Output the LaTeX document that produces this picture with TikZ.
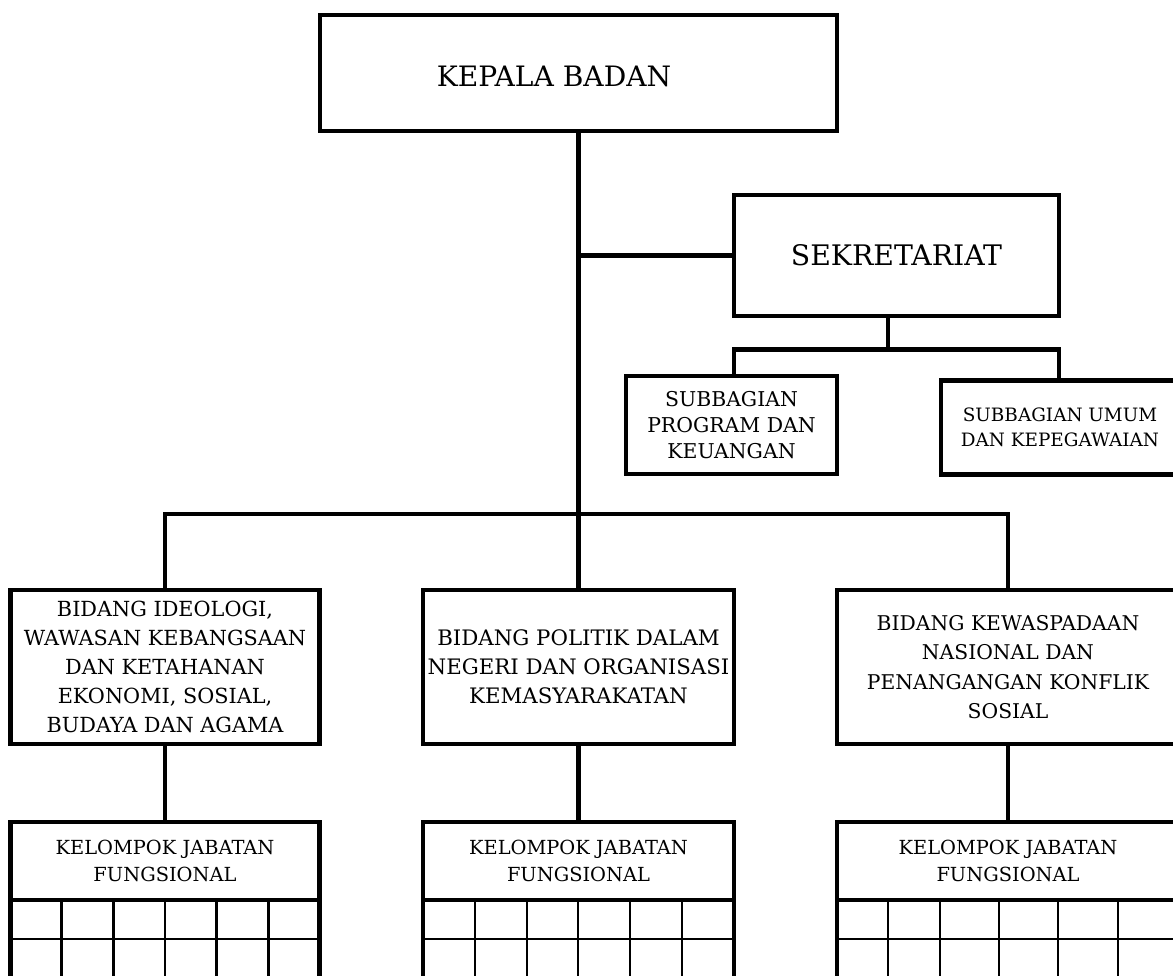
\documentclass[tikz,border=0pt]{standalone}
\usepackage{fontspec}
\setmainfont{DejaVu Serif}
\begin{document}
\begin{tikzpicture}[x=1pt,y=-1pt,
  box/.style={draw, line width=4.6pt, rectangle, inner sep=0pt, outer sep=0pt, align=center},
  conn/.style={line width=4.6pt},
  gridline/.style={line width=2.8pt},
  ]
\useasboundingbox (0,0) rectangle (1173,975);
\clip (0,0) rectangle (1173,975);
\fill[white] (0,0) rectangle (1173,975);

% top
\node[box, minimum width=517pt, minimum height=116pt] (k) at (578.5,73) {};
\node[font=\fontsize{28.1}{34}\selectfont] (kt) at (554,76.5) {KEPALA BADAN};

% sekretariat
\node[box, minimum width=325pt, minimum height=121pt, font=\fontsize{28.3}{34}\selectfont] (s) at (896.5,255.5) {SEKRETARIAT};
\node[box, line width=4pt, minimum width=211pt, minimum height=98pt, font=\fontsize{20.4}{26}\selectfont] (sp) at (731.5,425) {SUBBAGIAN\\PROGRAM DAN\\KEUANGAN};
\node[box, minimum width=238pt, minimum height=94pt, font=\fontsize{18.4}{25}\selectfont] (su) at (1060,427.5) {SUBBAGIAN UMUM\\DAN KEPEGAWAIAN};

% bidang
\node[box, minimum width=309pt, minimum height=154pt, font=\fontsize{20.8}{29.2}\selectfont] (bl) at (165,667) {BIDANG IDEOLOGI,\\WAWASAN KEBANGSAAN\\DAN KETAHANAN\\EKONOMI, SOSIAL,\\BUDAYA DAN AGAMA};
\node[box, minimum width=311pt, minimum height=154pt, font=\fontsize{21.3}{29}\selectfont] (bm) at (578.5,667) {BIDANG POLITIK DALAM\\NEGERI DAN ORGANISASI\\KEMASYARAKATAN};
\node[box, minimum width=342pt, minimum height=154pt, font=\fontsize{20.3}{29.3}\selectfont] (br) at (1008,667) {BIDANG KEWASPADAAN\\NASIONAL DAN\\PENANGANGAN KONFLIK\\SOSIAL};

% kelompok
\node[box, minimum width=309pt, minimum height=78pt, font=\fontsize{19.4}{27}\selectfont] (kl) at (165,861) {KELOMPOK JABATAN\\FUNGSIONAL};
\node[box, minimum width=311pt, minimum height=78pt, font=\fontsize{19.4}{27}\selectfont] (km) at (578.5,861) {KELOMPOK JABATAN\\FUNGSIONAL};
\node[box, minimum width=342pt, minimum height=78pt, font=\fontsize{19.4}{27}\selectfont] (kr) at (1008,861) {KELOMPOK JABATAN\\FUNGSIONAL};

% connectors
\coordinate (sj) at (888,349.5);
\coordinate (bar) at (578,514);
\draw[conn] (k.south) -- (bm.north);
\draw[conn] (k.south |- s.west) -- (s.west);
\draw[conn] (s.south -| sj) -- (sj);
\draw[conn] (s.west |- sp.north) -- (s.west |- sj) -- (s.east |- sj) -- (s.east |- su.north);
\draw[conn] (bl.north) -- (bl.north |- bar) -- (br.north |- bar) -- (br.north);
\draw[conn] (bl.south) -- (kl.north);
\draw[conn] (bm.south) -- (km.north);
\draw[conn] (br.south) -- (kr.north);

% grids
\foreach \n/\cols in {kl/{61.5,113.3,165,216.7,268.5}, km/{475,527,578,630,682}, kr/{888,940,999,1058,1118}} {
  \draw[conn] (\n.south west) -- ++(0,90);
  \draw[conn] (\n.south east) -- ++(0,90);
  \draw[gridline] ([yshift=-39pt]\n.south west) -- ([yshift=-39pt]\n.south east);
  \foreach \x in \cols {
    \draw[gridline] (\x,900) -- (\x,985);
  }
}
\end{tikzpicture}
\end{document}
